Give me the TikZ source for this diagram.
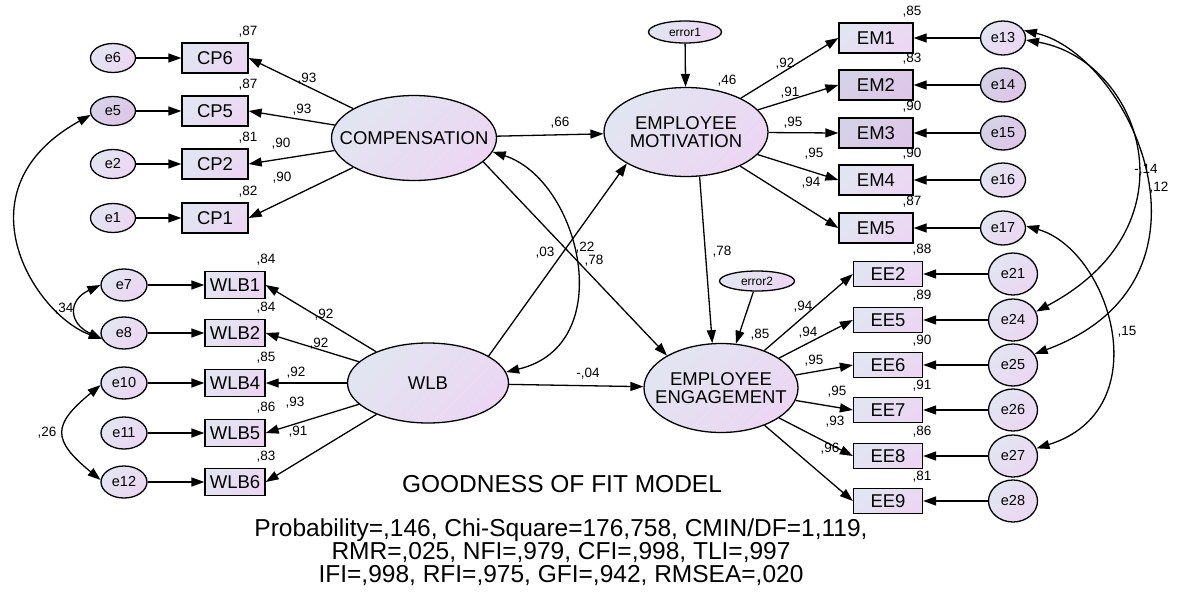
\documentclass[tikz,border=0pt]{standalone}
\usepackage{fontspec}
\setmainfont{Liberation Sans}
\usetikzlibrary{arrows.meta,shapes.geometric}
\definecolor{fillL}{RGB}{226,229,241}
\definecolor{fillR}{RGB}{236,214,243}
\definecolor{darkL}{RGB}{214,210,230}
\definecolor{darkR}{RGB}{222,198,232}

\begin{document}
\begin{tikzpicture}[x=1pt,y=-1pt,line width=1.3pt,>={Triangle[length=13pt,width=9pt]}]
\tikzstyle{lite}=[left color=fillL,right color=fillR,shading angle=45]
\tikzstyle{dark}=[left color=darkL,right color=darkR,shading angle=45]
\tikzstyle{obs}=[rectangle,draw,lite,inner sep=0pt,font=\fontsize{18.5}{19}\selectfont]
\tikzstyle{lat}=[ellipse,draw,lite,inner sep=0pt]
\tikzstyle{lattext}=[align=center,inner sep=0pt,font=\fontsize{18.5}{18}\selectfont]
\tikzstyle{err}=[ellipse,draw,lite,inner sep=0pt,font=\fontsize{14.5}{15}\selectfont]
\tikzstyle{val}=[inner sep=0pt,font=\fontsize{13.5}{14}\selectfont]
\useasboundingbox (0,0) rectangle (1179,595);

% latent variables
\node[lat,minimum width=165pt,minimum height=85pt,label={[lattext]center:COMPENSATION}] (comp) at (414,138) {};
\node[lat,minimum width=164pt,minimum height=89pt,label={[lattext]center:{EMPLOYEE\\MOTIVATION}}] (em) at (686,132) {};
\node[lat,minimum width=161pt,minimum height=80pt,label={[lattext]center:WLB}] (wlb) at (428,383) {};
\node[lat,minimum width=154pt,minimum height=89pt,label={[lattext]center:{EMPLOYEE\\ENGAGEMENT}}] (ee) at (721,388) {};
\node[err,minimum width=73pt,minimum height=22pt,font=\fontsize{12}{12}\selectfont] (error1) at (685,32) {error1};
\node[err,minimum width=75pt,minimum height=20pt,font=\fontsize{12}{12}\selectfont] (error2) at (757,281) {error2};

% compensation items
\foreach \n/\y/\r/\s in {6/58/87/lite,5/111/87/dark,2/164/81/lite,1/218/82/lite}{
  \node[err,\s,minimum width=45pt,minimum height=29pt] (e\n) at (113,\y) {e\n};
  \node[obs,minimum width=66pt,minimum height=30pt] (cp\n) at (215,\y) {CP\n};
  \node[val] at (248,\y-26) {,\r};
  \draw[->] (e\n) -- (cp\n);
  \draw[->] (comp) -- (cp\n.east);
}
\foreach \n/\x/\y/\l in {6/307/79/93,5/302/110/93,2/281/144/90,1/282/178/90}
  \node[val] at (\x,\y) {,\l};

% wlb items
\foreach \n/\e/\y/\r in {1/7/285/84,2/8/333/84,4/10/383/85,5/11/433/86,6/12/482/83}{
  \node[err,minimum width=46pt,minimum height=32pt] (e\e) at (124,\y) {e\e};
  \node[obs,minimum width=60pt,minimum height=27pt] (wlb\n) at (235,\y) {WLB\n};
  \node[val] at (266,\y-25) {,\r};
  \draw[->] (e\e) -- (wlb\n);
  \draw[->] (wlb) -- (wlb\n.east);
}
\foreach \x/\y/\l in {324/315/92,319/344/92,296/373/92,295/403/93,298/432/91}
  \node[val] at (\x,\y) {,\l};

% motivation items
\foreach \n/\e/\y/\r/\s in {1/13/38/85/lite,2/14/85/83/dark,3/15/133/90/dark,4/16/180/90/lite,5/17/228/87/lite}{
  \node[obs,\s,minimum width=74pt,minimum height=30pt] (em\n) at (876,\y) {EM\n};
  \node[err,\s,minimum width=45pt,minimum height=34pt] (e\e) at (1003,\y) {e\e};
  \node[val] at (912,\y-26) {,\r};
  \draw[->] (e\e) -- (em\n);
  \draw[->] (em) -- (em\n.west);
}
\foreach \x/\y/\l in {785/64/92,790/93/91,793/123/95,814/154/95,811/183/94}
  \node[val] at (\x,\y) {,\l};

% engagement items
\foreach \n/\e/\y/\r in {2/21/274/88,5/24/320/89,6/25/365/90,7/26/410/91,8/27/456/86,9/28/501/81}{
  \node[obs,minimum width=69pt,minimum height=25pt] (ee\n) at (888,\y) {EE\n};
  \node[err,minimum width=49pt,minimum height=42pt] (e\e) at (1013,\y) {e\e};
  \node[val] at (922,\y-24) {,\r};
  \draw[->] (e\e) -- (ee\n);
  \draw[->] (ee) -- (ee\n.west);
}
\foreach \x/\y/\l in {803/307/94,808/333/94,814/361/95,837/392/95,835/422/93,830/449/96}
  \node[val] at (\x,\y) {,\l};

% structural paths
\draw[->] (error1) -- (em);
\draw[->] (error2) -- (ee);
\draw[->] (comp) -- (em);
\draw[->] (comp.-19) -- (ee.149);
\draw[->] (wlb.24) -- (em.208);
\draw[->] (wlb) -- (ee);
\draw[->] (em.-73) -- (ee.101);
\draw[<->] (comp.-10) .. controls (580,180) and (620,345) .. (wlb.8);
\node[val] at (727,81) {,46};
\node[val] at (760,335) {,85};
\node[val] at (560,123) {,66};
\node[val] at (722,252) {,78};
\node[val] at (545,253) {,03};
\node[val] at (585,248) {,22};
\node[val] at (594,261) {,78};
\node[val] at (588,374) {-,04};

% covariances
\draw[<->] (e5.190) .. controls (-45,190) and (35,315) .. (e8.195);
\draw[<->] (e7.180) .. controls (68,300) and (68,323) .. (e8.195);
\draw[<->] (e10.185) .. controls (52,425) and (52,440) .. (e12.175);
\draw[<->] (e13.-5) .. controls (1140,60) and (1200,225) .. (e24.20);
\draw[<->] (e13.20) .. controls (1130,55) and (1235,280) .. (e25.27);
\draw[<->] (e17.5) .. controls (1110,250) and (1160,410) .. (e27.18);
\node[val] at (64,309) {,34};
\node[val] at (47,433) {,26};
\node[val] at (1146,170) {-,14};
\node[val] at (1159,188) {,12};
\node[val] at (1127,332) {,15};

% fit
\node[font=\fontsize{24.5}{25}\selectfont] (title) at (562,484) {GOODNESS OF FIT MODEL};
\node[font=\fontsize{24.5}{23}\selectfont,align=center] (fit) at (561,552) {Probability=,146, Chi-Square=176,758, CMIN/DF=1,119,\\RMR=,025, NFI=,979, CFI=,998, TLI=,997\\IFI=,998, RFI=,975, GFI=,942, RMSEA=,020};
\end{tikzpicture}
\end{document}
